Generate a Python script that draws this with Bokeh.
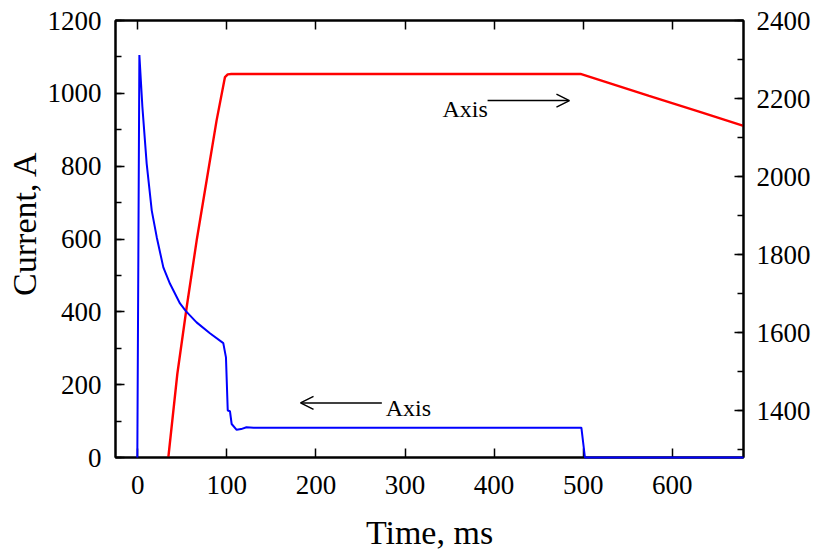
import numpy as np
from bokeh.plotting import figure
from bokeh.models import LinearAxis, Range1d, SingleIntervalTicker, Label, Arrow, OpenHead, Title
from bokeh.embed import file_html
from bokeh.resources import INLINE

# ---- data ----
time_current = [-0.5, 1.8, 5.2, 10, 15.7, 21.3, 28.7, 36.2, 47.4, 54, 66, 81, 96,
                99, 101, 103.5, 105.4, 111, 116, 122, 130, 200, 300, 400, 498, 502, 680]
current = [0, 1105, 962, 807, 678, 605, 522, 477, 423, 402, 371, 341, 314,
           275, 129, 127, 92, 76, 78, 83, 82, 82, 82, 82, 82, 0, 0]

time_axis = [34.3, 44.4, 54.9, 66.1, 77.3, 88.5, 97.9, 101, 105, 497, 574, 631, 680]
axis_value = [1280, 1494, 1665, 1836, 1990, 2144, 2255, 2262, 2263, 2263, 2207, 2166, 2130]

x_ticks_interval = 100
left_tick_interval = 200
right_tick_interval = 200

# annotation anchors (data units)
arrow_left = dict(x_start=274, x_end=182.7, y=150, text_x=278.4, text_y=136.5)
arrow_right = dict(x_start=392.7, x_end=484.6, y=980, text_x=342, text_y=958)

FONT = "Liberation Serif"

p = figure(width=815, height=553, x_range=Range1d(-25, 680), y_range=Range1d(0, 1200),
           output_backend="svg", toolbar_location=None,
           x_axis_location=None, y_axis_location=None,
           min_border_left=115, min_border_right=72, min_border_top=20, min_border_bottom=96)
p.extra_y_ranges = {"axis": Range1d(1280, 2400)}
p.grid.visible = False
p.outline_line_color = "black"
p.outline_line_width = 2
p.background_fill_color = "white"
p.border_fill_color = "white"


def style(ax, minor=True, labels=True):
    ax.axis_line_width = 2
    ax.axis_line_color = "black"
    ax.major_tick_in = 9
    ax.major_tick_out = 0
    ax.major_tick_line_width = 1.5
    ax.minor_tick_in = 6 if minor else 0
    ax.minor_tick_out = 0
    ax.minor_tick_line_width = 1.5
    if not minor:
        ax.minor_tick_line_color = None
    ax.major_label_text_font = FONT
    ax.major_label_text_font_size = "27px" if labels else "0px"
    ax.major_label_text_color = "black" if labels else None
    ax.major_label_standoff = 14 if labels else 0


bottom = LinearAxis(ticker=SingleIntervalTicker(interval=x_ticks_interval, num_minor_ticks=0))
style(bottom, minor=False)
bottom.major_label_standoff = 18
bottom.axis_label = "Time, ms"
bottom.axis_label_text_font = FONT
bottom.axis_label_text_font_size = "34px"
bottom.axis_label_text_font_style = "normal"
bottom.axis_label_text_color = "black"
bottom.axis_label_standoff = 17
p.add_layout(bottom, "below")

top = LinearAxis(ticker=SingleIntervalTicker(interval=x_ticks_interval, num_minor_ticks=0))
style(top, minor=False, labels=False)
p.add_layout(top, "above")

left = LinearAxis(ticker=SingleIntervalTicker(interval=left_tick_interval, num_minor_ticks=2))
style(left)
p.add_layout(left, "left")

right = LinearAxis(y_range_name="axis",
                   ticker=SingleIntervalTicker(interval=right_tick_interval, num_minor_ticks=2))
style(right)
right.major_label_standoff = 13
p.add_layout(right, "right")

p.add_layout(Title(text="Current, A", align="right", offset=130, text_font=FONT,
                   text_font_size="34px", text_font_style="normal", text_color="black",
                   standoff=4), "left")

# ---- series ----
p.line(time_axis, axis_value, y_range_name="axis", line_color="#ff0000", line_width=2.4)
blue = p.line(time_current, current, line_color="#0000ff", line_width=2)
blue.level = "overlay"

# ---- annotations ----
for a in (arrow_left, arrow_right):
    p.add_layout(Arrow(end=OpenHead(size=13, line_width=1.5, line_color="black"),
                       x_start=a["x_start"], y_start=a["y"], x_end=a["x_end"], y_end=a["y"],
                       line_width=1.5, line_color="black"))
    p.add_layout(Label(x=a["text_x"], y=a["text_y"], text="Axis", text_font=FONT,
                       text_font_size="24px", text_color="black",
                       text_align="left", text_baseline="alphabetic"))

open("out.html", "w").write(file_html(p, INLINE))
